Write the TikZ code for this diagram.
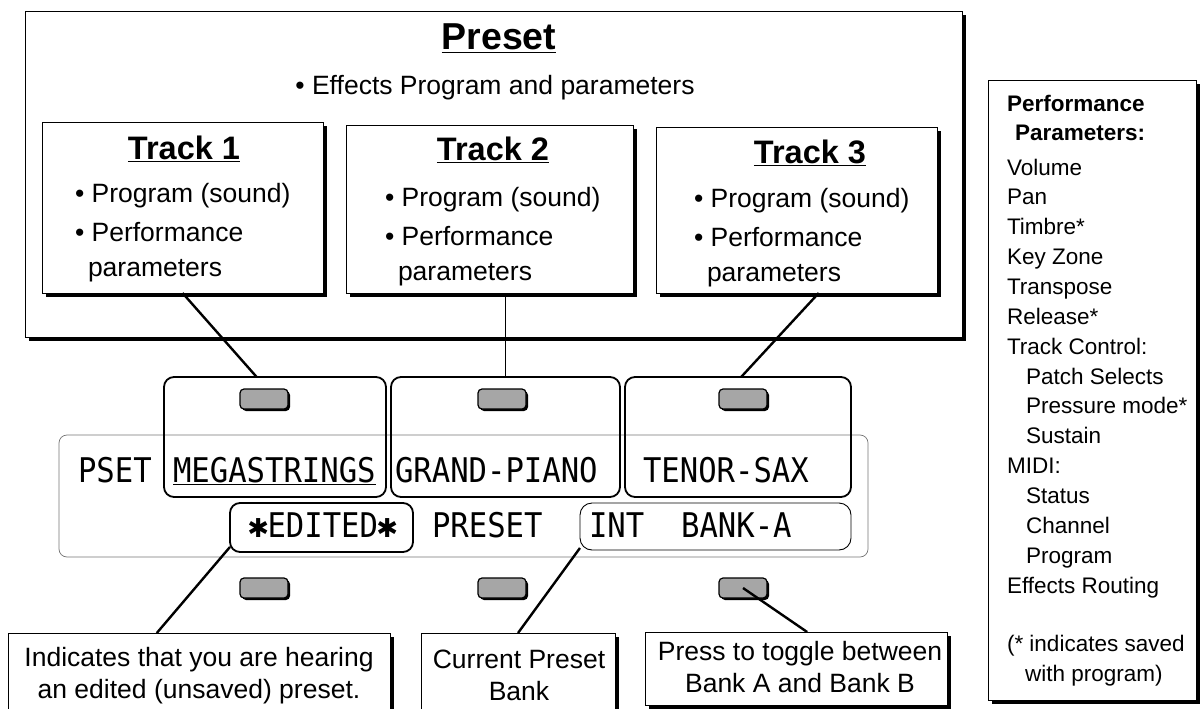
\documentclass[tikz,border=0pt]{standalone}
\usepackage{fontspec}
\setmainfont{Liberation Sans}
\newfontfamily\lcdfont[FakeStretch=0.9]{DejaVu Sans Mono}
\newfontfamily\symfont{DejaVu Sans}
\usetikzlibrary{shadows, positioning}
\newcommand\lcdstar{\makebox[18.5pt]{\symfont\fontsize{26}{26}\selectfont ✱}}

\begin{document}
\begin{tikzpicture}[x=1pt, y=-1pt,
    every node/.style={inner sep=0pt, outer sep=0pt},
    shadowbox/.style={draw, line width=0.8pt, fill=white,
      drop shadow={shadow xshift=4pt, shadow yshift=-4pt, fill=black, opacity=1}},
    slot/.style={draw, line width=1.8pt, rounded corners=10pt},
    button/.style={draw, line width=1.2pt, fill=gray!70, rounded corners=4pt,
      minimum width=48pt, minimum height=20pt,
      drop shadow={shadow xshift=2pt, shadow yshift=-2pt, fill=black, opacity=1}},
    lcd/.style={font=\lcdfont\fontsize{34}{34}\selectfont, anchor=base west},
    body/.style={font=\fontsize{26.5}{32}\selectfont},
    head/.style={font=\bfseries\fontsize{32.5}{36}\selectfont, anchor=base},
    param/.style={font=\fontsize{22.5}{30}\selectfont, anchor=base west},
    paramhead/.style={param, font=\bfseries\fontsize{22.5}{30}\selectfont},
    leader/.style={line width=2.4pt}]

  \useasboundingbox (0,0) rectangle (1204,709);

  \node[shadowbox, minimum width=937pt, minimum height=326pt] (preset) at (493.5,174) {};
  \node[head, font=\bfseries\fontsize{37.5}{40}\selectfont] (preset title) at (499,50) {\underline{Preset}};
  \node[body, anchor=base] (effects) at (495,94.5) {• Effects Program and parameters};

  \foreach \n/\cx/\cy/\w/\h/\tx/\ty/\bx/\dy in
      {1/182.5/207.5/281/171/184/159/75/0, 2/489.5/209/287/168/493/160/385/4, 3/796.5/210/281/166/810/163/694/5} {
    \node[shadowbox, minimum width=\w pt, minimum height=\h pt] (t\n) at (\cx,\cy) {};
    \node[head] (t\n title) at (\tx,\ty) {\underline{Track \n}};
    \node[body, anchor=base west] (t\n prog) at (\bx,{202+\dy}) {• Program (sound)};
    \node[body, anchor=base west] (t\n perf) at (\bx,{241+\dy}) {• Performance};
    \node[body, anchor=base west] (t\n par) at (\bx+13,{276+\dy}) {parameters};
  }

  \node[draw=black!55, line width=0.7pt, rounded corners=8pt, minimum width=809pt, minimum height=122pt] (display) at (463.5,496) {};
  \node[slot, minimum width=222pt, minimum height=120pt] (mega) at (275,437) {};
  \node[slot, minimum width=229pt, minimum height=120pt] (grand) at (505.5,437) {};
  \node[slot, minimum width=226pt, minimum height=120pt] (tenor) at (738,437) {};
  \node[slot, minimum width=183pt, minimum height=49pt] (edited) at (321.5,527.5) {};
  \node[slot, line width=0.9pt, rounded corners=12pt, minimum width=271pt, minimum height=47pt] (bank) at (715.5,526.5) {};

  \foreach \n/\x in {1/264, 2/502, 3/743} {
    \node[button] (up\n) at (\x,399) {};
    \node[button] (low\n) at (\x,588) {};
  }

  \node[lcd] (pset) at (78,482) {PSET};
  \node[lcd] (mega text) at (173,482) {\underline{MEGASTRINGS}};
  \node[lcd] (grand text) at (395,482) {GRAND-PIANO};
  \node[lcd] (tenor text) at (643,482) {TENOR-SAX};
  \node[lcd] (edited text) at (249,537) {\lcdstar EDITED\lcdstar};
  \node[lcd] (preset text) at (432,537) {PRESET};
  \node[lcd] (bank text) at (589,537) {INT\ \ BANK-A};

  \node[shadowbox, minimum width=382pt, minimum height=112pt] (ba) at (199,689) {};
  \node[shadowbox, minimum width=194pt, minimum height=112pt] (bb) at (518,689) {};
  \node[shadowbox, minimum width=302pt, minimum height=73pt] (bc) at (796,668.5) {};
  \node[body, align=center] (ba text) at (199,676) {Indicates that you are hearing\\an edited (unsaved) preset.};
  \node[body, align=center] (bb text) at (519,675) {Current Preset\\Bank};
  \node[body, align=center] (bc text) at (800,667) {Press to toggle between\\Bank A and Bank B};

  \draw[leader] (t1.south) -- (mega.107);
  \draw[line width=1pt] (t2.south -| grand.north) -- (grand.north);
  \draw[leader] (t3.285) -- (tenor.87);
  \draw[leader] (edited.192) -- (ba.127);
  \draw[leader] (bank.189) -- (bb.north);
  \draw[leader] (low3.center) -- (bc.73);

  \node[shadowbox, minimum width=208pt, minimum height=620pt] (panel) at (1092,390) {};
  \node[paramhead] (perf head) at (1007,111) {Performance};
  \node[paramhead] (par head) at (1015,140) {Parameters:};
  \foreach \ptext [count=\i from 0] in {Volume, Pan, Timbre*, Key Zone, Transpose, Release*, Track Control:,
      \hspace*{19pt}Patch Selects, \hspace*{19pt}Pressure mode*, \hspace*{19pt}Sustain, MIDI:,
      \hspace*{19pt}Status, \hspace*{19pt}Channel, \hspace*{19pt}Program, Effects Routing}
    \node[param] (p\i) at (1007,{175+29.86*\i}) {\ptext};
  \node[param] (note1) at (1007,651) {(* indicates saved};
  \node[param] (note2) at (1025,681) {with program)};
\end{tikzpicture}
\end{document}
